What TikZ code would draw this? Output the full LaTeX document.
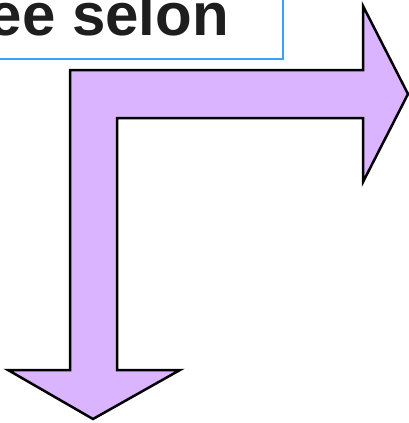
\documentclass[tikz,border=0pt]{standalone}
\usepackage{fontspec}
\setmainfont{Liberation Sans}
\definecolor{boxblue}{HTML}{3DA0FF}
\definecolor{arrowfill}{HTML}{DAB4FF}
\definecolor{inkgray}{HTML}{1E1E1E}
\tikzset{
  titlebox/.style={draw=boxblue, line width=2pt, fill=white},
  bentarrow/.style={draw=black, line width=2.5pt, fill=arrowfill, line join=miter},
  titletext/.style={inner sep=0pt, text=inkgray, font=\fontsize{60}{60}\selectfont\bfseries}
}
\begin{document}
\begin{tikzpicture}[x=1pt, y=-1pt]
  \useasboundingbox (0,0) rectangle (409,423);
  \clip (0,0) rectangle (409,423);
  % title frame running off the top-left corner
  \draw[titlebox] (-30,-30) rectangle (283,59);
  \node[titletext, anchor=base east] (title) at (229,35) {ee selon};
  % L-shaped double arrow: right-pointing and down-pointing heads
  \draw[bentarrow]
    (70,70) -- (363,70) -- (363,6) -- (408,94) -- (363,182) -- (363,118)
    -- (117,118) -- (117,370) -- (180,370) -- (93,419) -- (8,370)
    -- (70,370) -- cycle;
\end{tikzpicture}
\end{document}
